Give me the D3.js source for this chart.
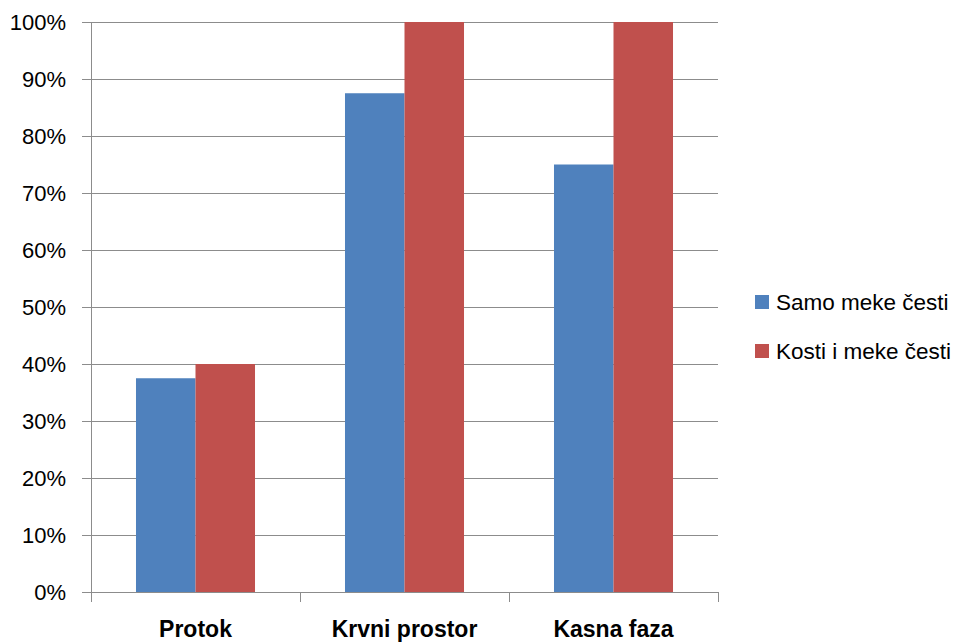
<!DOCTYPE html>
<html>
<head>
<meta charset="utf-8">
<script src="https://cdn.jsdelivr.net/npm/d3@7"></script>
<style>
  body { margin: 0; background: #fff; }
  text { font-family: "Liberation Sans", Arial, sans-serif; fill: #000; }
</style>
</head>
<body>
<div class="chart"></div>
<script>
"use strict";

// data
let categories = ["Protok", "Krvni prostor", "Kasna faza"];
let series_names = ["Samo meke česti", "Kosti i meke česti"];
let soft_only = [0.375, 0.875, 0.75];
let bone_and_soft = [0.40, 1.00, 1.00];
let y_ticks = [0, 0.1, 0.2, 0.3, 0.4, 0.5, 0.6, 0.7, 0.8, 0.9, 1.0];
let colors = ["#4F81BD", "#C0504D"];

// plot appearance
let margin = {top: 22, left: 91};
let width = 627;
let height = 570;
let grid_color = "#8c8c8c";

let svg = d3.select(".chart")
    .append("svg")
    .attr("width", 962)
    .attr("height", 643);

let g = svg.append("g")
    .attr("transform", "translate(" + margin.left + "," + margin.top + ")");

let x_scale = d3.scaleBand()
    .domain(categories)
    .range([0, width])
    .paddingInner(0)
    .paddingOuter(0);

let x_inner = d3.scaleBand()
    .domain(series_names)
    .range([0, x_scale.bandwidth()])
    .paddingOuter(0.756)
    .paddingInner(0);

let y_scale = d3.scaleLinear()
    .domain([0, 1])
    .range([height, 0]);

// gridlines
g.selectAll(".grid")
    .data(y_ticks)
    .enter()
    .append("line")
    .attr("class", "grid")
    .attr("x1", -9)
    .attr("x2", width)
    .attr("y1", function(d) { return Math.round(y_scale(d)) + 0.5; })
    .attr("y2", function(d) { return Math.round(y_scale(d)) + 0.5; })
    .attr("stroke", grid_color)
    .attr("stroke-width", 1);

// y labels
g.selectAll(".y_label")
    .data(y_ticks)
    .enter()
    .append("text")
    .attr("class", "y_label")
    .attr("x", -25)
    .attr("y", function(d) { return y_scale(d) + 8; })
    .attr("text-anchor", "end")
    .style("font-size", "22px")
    .text(function(d) { return Math.round(d * 100) + "%"; });

// bars
let rows = categories.map(function(c, i) {
    return {cat: c, values: [soft_only[i], bone_and_soft[i]]};
});

let groups = g.selectAll(".cat")
    .data(rows)
    .enter()
    .append("g")
    .attr("class", "cat")
    .attr("transform", function(d) { return "translate(" + x_scale(d.cat) + ",0)"; });

groups.selectAll("rect")
    .data(function(d) { return d.values.map(function(v, j) { return {name: series_names[j], v: v, j: j}; }); })
    .enter()
    .append("rect")
    .attr("x", function(d) { return x_inner(d.name); })
    .attr("width", x_inner.bandwidth())
    .attr("y", function(d) { return y_scale(d.v); })
    .attr("height", function(d) { return height - y_scale(d.v); })
    .attr("fill", function(d) { return colors[d.j]; });

// y axis line
g.append("line")
    .attr("x1", 0.5).attr("x2", 0.5)
    .attr("y1", 0).attr("y2", height)
    .attr("stroke", grid_color);

// x axis line and category ticks
g.append("line")
    .attr("x1", 0).attr("x2", width)
    .attr("y1", height + 0.5).attr("y2", height + 0.5)
    .attr("stroke", grid_color);

let boundaries = categories.map(function(c) { return x_scale(c); }).concat([width]);
g.selectAll(".x_tick")
    .data(boundaries)
    .enter()
    .append("line")
    .attr("class", "x_tick")
    .attr("x1", function(d) { return Math.round(d) + 0.5; })
    .attr("x2", function(d) { return Math.round(d) + 0.5; })
    .attr("y1", height)
    .attr("y2", height + 10)
    .attr("stroke", grid_color);

// category labels
g.selectAll(".x_label")
    .data(categories)
    .enter()
    .append("text")
    .attr("class", "x_label")
    .attr("x", function(d) { return x_scale(d) + x_scale.bandwidth() / 2; })
    .attr("y", height + 45)
    .attr("text-anchor", "middle")
    .style("font-size", "23px")
    .style("font-weight", "bold")
    .text(function(d) { return d; });

// legend
let legend = svg.selectAll(".legend")
    .data(series_names)
    .enter()
    .append("g")
    .attr("class", "legend")
    .attr("transform", function(d, i) { return "translate(755," + (295 + i * 49) + ")"; });

legend.append("rect")
    .attr("width", 14)
    .attr("height", 14)
    .attr("fill", function(d, i) { return colors[i]; });

legend.append("text")
    .attr("x", 21)
    .attr("y", 15)
    .style("font-size", "22.5px")
    .text(function(d) { return d; });
</script>
</body>
</html>
